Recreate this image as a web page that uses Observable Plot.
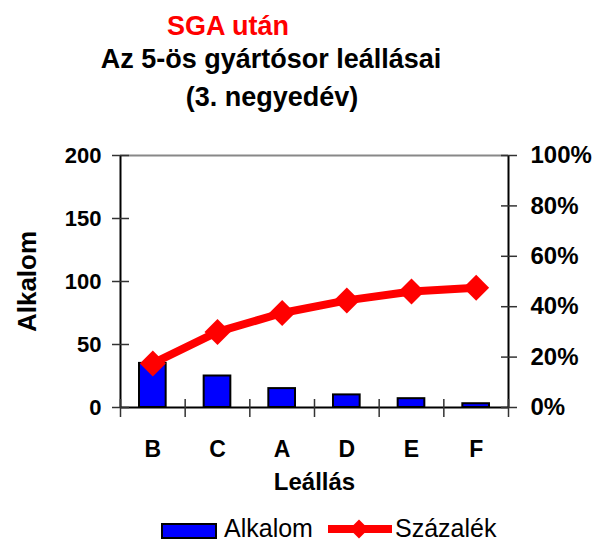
<!DOCTYPE html>
<html><head><meta charset="utf-8">
<script src="https://cdn.jsdelivr.net/npm/d3@7"></script>
<script src="https://cdn.jsdelivr.net/npm/@observablehq/plot@0.6"></script>
<style>
body{margin:0;background:#fff;font-family:"Liberation Sans",Arial,sans-serif;}
#wrap{position:relative;width:605px;height:545px;overflow:hidden;}
#chart{position:absolute;left:0;top:0;}
.t{position:absolute;white-space:nowrap;line-height:1;transform:translateX(-50%);font-weight:bold;color:#000;}
.lg{position:absolute;white-space:nowrap;line-height:1;font-size:25px;color:#000;}
</style></head><body>
<div id="wrap">
<div id="chart"></div>
<div class="t" style="left:228px;top:13px;font-size:27px;color:#ff0000">SGA után</div>
<div class="t" style="left:271px;top:46px;font-size:27px;">Az 5-ös gyártósor leállásai</div>
<div class="t" style="left:272px;top:84px;font-size:27px;">(3. negyedév)</div>
<div style="position:absolute;left:161px;top:523px;width:56px;height:16px;box-sizing:border-box;border:2px solid #000;background:#0000ff;"></div>
<div class="lg" style="left:224px;top:516px;">Alkalom</div>
<svg style="position:absolute;left:328px;top:519px;" width="64" height="20"><line x1="0" x2="64" y1="10" y2="10" stroke="#ff0000" stroke-width="8"/><path d="M31,0.5L40.5,10L31,19.5L21.5,10Z" fill="#ff0000"/></svg>
<div class="lg" style="left:395px;top:516px;">Százalék</div>
</div>
<script>
const categories = ["B", "C", "A", "D", "E", "F"];
const counts = [35, 25, 15, 10, 7, 3];
const percents = [17.5, 30, 37.5, 42.5, 46, 47.5];
const countTicks = [0, 50, 100, 150, 200];
const percentTicks = [0, 20, 40, 60, 80, 100];
const yMax = 200;

const rows = categories.map((c, i) => ({cat: c, i, count: counts[i], pct: percents[i]}));
const pctToY = p => p / 100 * yMax;

const chart = Plot.plot({
  width: 605, height: 545,
  marginLeft: 120, marginRight: 97, marginTop: 155, marginBottom: 138,
  style: {fontFamily: "Liberation Sans, Arial, sans-serif", background: "white", color: "black"},
  x: {type: "linear", domain: [0, categories.length], axis: null},
  y: {domain: [0, yMax], axis: null},
  marks: [
    Plot.ruleY([yMax], {stroke: "#888", strokeWidth: 2}),
    Plot.rectY(rows, {x1: "i", x2: d => d.i + 1, y: "count", fill: "#0000ff", stroke: "black", strokeWidth: 2, insetLeft: 19, insetRight: 19}),
    Plot.ruleX([0, categories.length], {stroke: "black", strokeWidth: 2}),
    Plot.ruleY([0], {stroke: "black", strokeWidth: 2}),
    Plot.axisY({anchor: "left", ticks: countTicks, tickSize: 0, tickPadding: 19, tickFormat: d => String(d), fontSize: 22, fontWeight: "bold", label: null}),
    Plot.axisY({anchor: "left", ticks: countTicks, tickSize: 17, dx: 9, tickFormat: () => "", label: null, stroke: "#333", strokeWidth: 1.5}),
    Plot.axisY({anchor: "right", ticks: percentTicks.map(pctToY), tickSize: 0, tickPadding: 22, tickFormat: v => Math.round(v / yMax * 100) + "%", fontSize: 24, fontWeight: "bold", label: null}),
    Plot.axisY({anchor: "right", ticks: percentTicks.map(pctToY), tickSize: 16, dx: -8, tickFormat: () => "", label: null, stroke: "#333", strokeWidth: 1.5}),
    Plot.axisX({anchor: "bottom", ticks: d3.range(0, categories.length + 1), tickSize: 18, dy: -8, tickFormat: () => "", label: null, stroke: "#333", strokeWidth: 1.5}),
    Plot.axisX({anchor: "bottom", ticks: rows.map(d => d.i + 0.5), tickSize: 0, tickPadding: 33, tickFormat: v => categories[Math.floor(v)], fontSize: 23, fontWeight: "bold", label: null}),
    Plot.line(rows, {x: d => d.i + 0.5, y: d => pctToY(d.pct), stroke: "#ff0000", strokeWidth: 8}),
    Plot.dot(rows, {x: d => d.i + 0.5, y: d => pctToY(d.pct), symbol: "diamond2", r: 11.7, fill: "#ff0000", stroke: "none"}),
    Plot.text(["Alkalom"], {frameAnchor: "left", textAnchor: "middle", lineAnchor: "middle", rotate: -90, dx: -93, fontSize: 26, fontWeight: "bold", fill: "black"}),
    Plot.text(["Leállás"], {frameAnchor: "bottom", dy: 75, lineAnchor: "middle", fontSize: 24, fontWeight: "bold", fill: "black"})
  ]
});
document.getElementById("chart").appendChild(chart);
</script>
</body></html>
